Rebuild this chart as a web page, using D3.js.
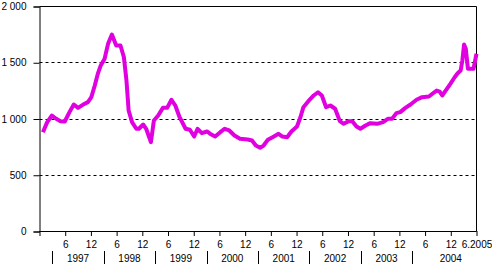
<!DOCTYPE html>
<html>
<head>
<meta charset="utf-8">
<script src="https://cdn.jsdelivr.net/npm/d3@7"></script>
<style>
  body { margin: 0; background: #fff; }
  svg text { font-family: "Liberation Sans", Arial, sans-serif; font-size: 10px; fill: #000; }
</style>
</head>
<body>
<svg id="chart"></svg>
<script>
// months counted from Dec 1996 (0) to Jun 2005 (102)
const months = [0.8, 1.8, 2.9, 3.9, 4.9, 5.9, 7.0, 8.0, 9.0, 10.1, 11.3, 12.1, 12.9, 13.6, 14.3, 15.2, 16.0, 16.9, 17.9, 18.9,
  19.7, 20.3, 20.8, 21.6, 22.6, 23.2, 24.2, 24.9, 26.0, 26.7, 27.7, 28.8, 29.8, 30.8, 31.7, 32.7, 34.1, 35.1, 36.1, 36.9,
  37.9, 39.1, 40.1, 41.0, 42.2, 43.2, 44.3, 45.5, 46.8, 48.6, 49.6, 50.5, 51.5, 52.3, 53.3, 54.4, 55.8, 56.7, 57.8, 58.8,
  60.1, 60.9, 61.6, 62.7, 64.0, 65.0, 65.9, 66.9, 67.9, 69.0, 70.1, 71.0, 72.2, 73.0, 74.0, 74.9, 76.1, 77.2, 78.8, 80.2,
  81.3, 82.3, 83.3, 84.2, 85.4, 86.6, 88.0, 89.3, 90.9, 91.7, 92.7, 93.4, 94.0, 94.8, 95.9, 96.9, 97.6, 98.3, 98.7, 99.1,
  99.5, 100.0, 101.3, 102.0];
const values = [883, 972, 1031, 1002, 981, 978, 1061, 1129, 1099, 1126, 1150, 1194, 1298, 1401, 1476, 1535, 1668, 1751, 1653, 1653,
  1549, 1342, 1076, 972, 913, 913, 951, 913, 794, 987, 1031, 1099, 1099, 1171, 1120, 1016, 913, 904, 844, 913,
  874, 889, 862, 844, 883, 913, 898, 853, 824, 818, 809, 764, 744, 764, 815, 838, 868, 844, 838, 889,
  933, 1016, 1105, 1156, 1209, 1238, 1209, 1105, 1120, 1091, 981, 957, 981, 981, 933, 913, 942, 963, 957, 972,
  1002, 1002, 1052, 1061, 1099, 1129, 1171, 1194, 1200, 1224, 1253, 1244, 1209, 1253, 1313, 1371, 1407, 1431, 1520, 1662,
  1624, 1446, 1446, 1580];

const yTicks = [0, 500, 1000, 1500, 2000];
const gridValues = [500, 1000, 1500];
const xTickMonths = [0, 6, 12, 18, 24, 30, 36, 42, 48, 54, 60, 66, 72, 78, 84, 90, 96, 102];
const xTickLabels = ["", "6", "12", "6", "12", "6", "12", "6", "12", "6", "12", "6", "12", "6", "12", "6", "12", "6.2005"];
const years = ["1997", "1998", "1999", "2000", "2001", "2002", "2003", "2004"];
const yearBounds = [3, 15, 27, 39, 51, 63, 75, 87, 105];

const width = 492, height = 265;
const plotLeft = 39.5, plotRight = 476.5, plotTop = 6.5, plotBottom = 231.5;

const svg = d3.select("#chart").attr("width", width).attr("height", height);

const x = d3.scaleLinear().domain([0, 102]).range([plotLeft, plotRight]);
const y = d3.scaleLinear().domain([0, 2000]).range([plotBottom, plotTop]);

const fmt = d3.formatLocale({decimal: ",", thousands: " ", grouping: [3], currency: ["", ""]}).format(",");

// grid
svg.append("g")
  .selectAll("line")
  .data(gridValues)
  .join("line")
  .attr("x1", plotLeft).attr("x2", plotRight)
  .attr("y1", d => Math.floor(y(d)) + 0.5).attr("y2", d => Math.floor(y(d)) + 0.5)
  .attr("stroke", "#000")
  .attr("stroke-dasharray", "3,3");

// frame top and right
svg.append("path")
  .attr("d", `M${plotLeft},${plotTop}H${plotRight}V${plotBottom}`)
  .attr("fill", "none")
  .attr("stroke", "#000");

// y axis
const yAxis = svg.append("g")
  .attr("transform", `translate(${plotLeft},0)`)
  .call(d3.axisLeft(y).tickValues(yTicks).tickSize(6).tickPadding(7).tickFormat(fmt));
yAxis.selectAll("line, path").attr("stroke", "#000");
yAxis.selectAll("text").attr("font-size", null).attr("font-family", null);

// x axis
const xAxis = svg.append("g")
  .attr("transform", `translate(0,${plotBottom - 0.5})`)
  .call(d3.axisBottom(x).tickValues(xTickMonths).tickSize(5).tickPadding(5)
    .tickFormat((d, i) => xTickLabels[i]));
xAxis.select(".domain").attr("d", `M${plotLeft},0.5H${plotRight}`);
xAxis.selectAll("line, path").attr("stroke", "#000");
xAxis.selectAll("text").attr("font-size", null).attr("font-family", null);

// year separators and labels
svg.append("g")
  .selectAll("line")
  .data(yearBounds.slice(0, -1))
  .join("line")
  .attr("x1", d => Math.round(x(d)) + 0.5).attr("x2", d => Math.round(x(d)) + 0.5)
  .attr("y1", 251).attr("y2", 264)
  .attr("stroke", "#000");

svg.append("g")
  .selectAll("text")
  .data(years)
  .join("text")
  .attr("x", (d, i) => x((yearBounds[i] + yearBounds[i + 1]) / 2))
  .attr("y", 262)
  .attr("text-anchor", "middle")
  .text(d => d);

// series
const line = d3.line()
  .x((d, i) => x(months[i]))
  .y(d => y(d));

svg.append("path")
  .datum(values)
  .attr("d", line)
  .attr("fill", "none")
  .attr("stroke", "#e000e0")
  .attr("stroke-width", 4)
  .attr("stroke-linejoin", "round");
</script>
</body>
</html>
